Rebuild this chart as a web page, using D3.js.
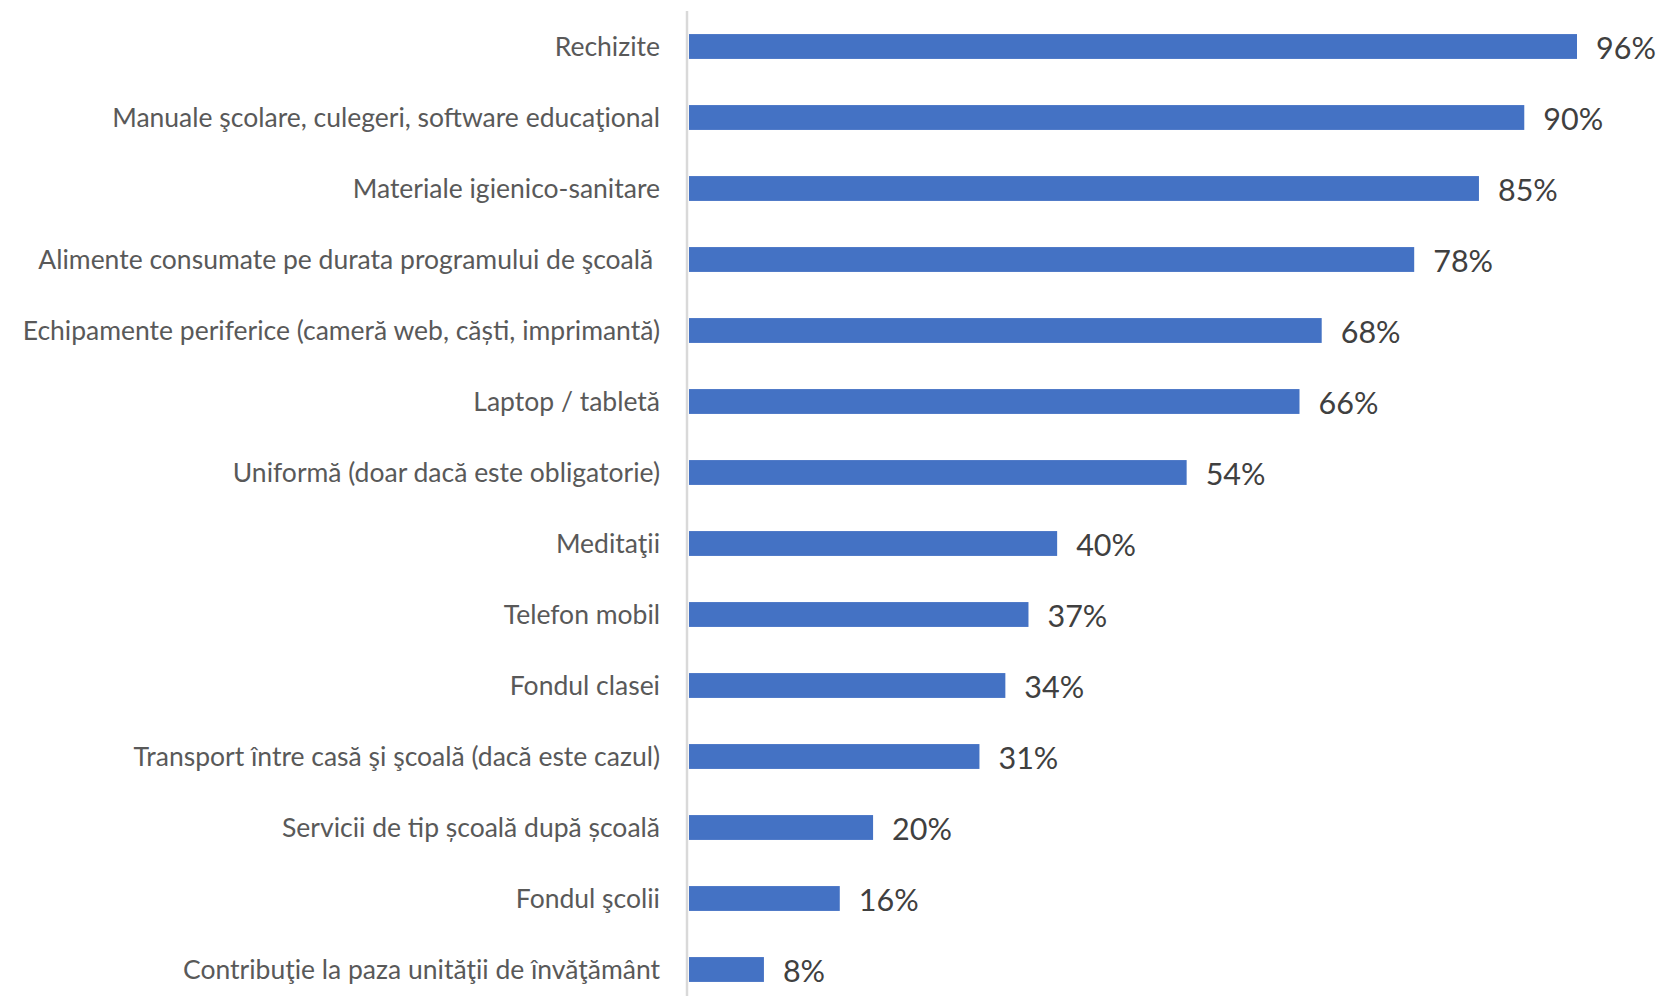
<!DOCTYPE html>
<meta charset="utf-8">
<script src="https://d3js.org/d3.v7.min.js"></script>
<style>
  body { margin: 0; background: #fff; }
  .cat { font-family: Lato, sans-serif; font-size: 26.5px; fill: #595959; }
  .val { font-family: Lato, sans-serif; font-size: 30.5px; fill: #404040; }
</style>
<body>
<svg id="svg" width="1663" height="996"></svg>
<script>
// categories, top to bottom
var categories = [
  "Rechizite",
  "Manuale şcolare, culegeri, software educaţional",
  "Materiale igienico-sanitare",
  "Alimente consumate pe durata programului de şcoală ",
  "Echipamente periferice (cameră web, căști, imprimantă)",
  "Laptop / tabletă",
  "Uniformă (doar dacă este obligatorie)",
  "Meditaţii",
  "Telefon mobil",
  "Fondul clasei",
  "Transport între casă şi şcoală (dacă este cazul)",
  "Servicii de tip școală după școală",
  "Fondul şcolii",
  "Contribuţie la paza unităţii de învăţământ"
];
// shares (%); labels show them rounded
var values = [96, 90.3, 85.4, 78.4, 68.4, 66, 53.8, 39.8, 36.7, 34.2, 31.4, 19.9, 16.3, 8.1];

var svg = d3.select("svg");
var axisX = 687;

var x = d3.scaleLinear()
    .domain([0, 100])
    .range([axisX + 2, axisX + 927]);

var y = d3.scaleBand()
    .domain(categories)
    .range([11, 1005])
    .paddingInner(0.65)
    .paddingOuter(0.325);

// bars
svg.append("g")
  .selectAll("rect")
  .data(values)
  .enter()
  .append("rect")
    .attr("x", x(0))
    .attr("y", function(d, i) { return y(categories[i]); })
    .attr("width", function(d) { return x(d) - x(0); })
    .attr("height", y.bandwidth())
    .attr("fill", "#4472C4");

// vertical axis line
svg.append("line")
    .attr("x1", axisX).attr("x2", axisX)
    .attr("y1", 11).attr("y2", 996)
    .attr("stroke", "#D9D9D9")
    .attr("stroke-width", 2.5);

// category labels
svg.append("g")
  .selectAll("text")
  .data(categories)
  .enter()
  .append("text")
    .attr("class", "cat")
    .attr("x", axisX - 27)
    .attr("y", function(d) { return y(d) + y.bandwidth() / 2; })
    .attr("dy", "0.35em")
    .attr("text-anchor", "end")
    .style("white-space", "pre")
    .text(function(d) { return d; });

// value labels
svg.append("g")
  .selectAll("text")
  .data(values)
  .enter()
  .append("text")
    .attr("class", "val")
    .attr("x", function(d) { return x(d) + 19; })
    .attr("y", function(d, i) { return y(categories[i]) + y.bandwidth() / 2; })
    .attr("dy", "0.4em")
    .text(function(d) { return Math.round(d) + "%"; });
</script>
</body>
